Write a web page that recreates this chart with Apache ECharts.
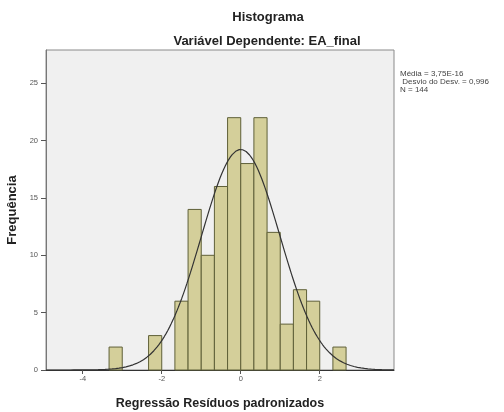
<!DOCTYPE html>
<html>
<head>
<meta charset="utf-8">
<script src="https://cdn.jsdelivr.net/npm/echarts@6/dist/echarts.min.js"></script>
<style>html,body{margin:0;padding:0;background:#fff}#c{width:504px;height:412px}</style>
</head>
<body>
<div id="c"></div>
<script>
// Histogram bins (left edge of each bin) and counts
const binWidth = 1 / 3;
const binStarts = [-10/3, -7/3, -5/3, -4/3, -1, -2/3, -1/3, 0, 1/3, 2/3, 1, 4/3, 5/3, 7/3];
const counts    = [2, 3, 6, 14, 10, 16, 22, 18, 22, 12, 4, 7, 6, 2];
// Fitted normal curve parameters (from the legend)
const mean = 3.75e-16;
const stdDev = 0.996;
const N = 144;
const xTicks = [-4, -2, 0, 2];
const yTicks = [0, 5, 10, 15, 20, 25];
const statsLines = ['Média = 3,75E-16', ' Desvio do Desv. = 0,996', 'N = 144'];

const xMin = -4.93, xMax = 3.88;

const barData = binStarts.map((s, i) => [s, s + binWidth, counts[i]]);
const curve = [];
for (let k = 0; k <= 200; k++) {
  const x = xMin + (xMax - xMin) * k / 200;
  const z = (x - mean) / stdDev;
  curve.push([x, N * binWidth * Math.exp(-0.5 * z * z) / (stdDev * Math.sqrt(2 * Math.PI))]);
}

const font = '"Liberation Sans", Arial, sans-serif';
const chart = echarts.init(document.getElementById('c'));
chart.setOption({
  animation: false,
  backgroundColor: '#ffffff',
  title: [
    { text: 'Histograma', left: 263, top: 6, textAlign: 'center',
      textStyle: { fontFamily: font, fontSize: 13, fontWeight: 'bold', color: '#222' } },
    { text: 'Variável Dependente: EA_final', left: 262, top: 30, textAlign: 'center',
      textStyle: { fontFamily: font, fontSize: 13, fontWeight: 'bold', color: '#222' } },
    { text: statsLines.join('\n'), left: 400, top: 70, padding: 0,
      textStyle: { fontFamily: font, fontSize: 8, fontWeight: 'normal', color: '#444', lineHeight: 8 } }
  ],
  grid: { left: 46, top: 50, right: 110, bottom: 42, show: true, containLabel: false,
          outerBoundsMode: 'none',
          backgroundColor: '#F0F0F0', borderColor: '#8a8a8a', borderWidth: 1 },
  xAxis: {
    type: 'value', min: xMin, max: xMax,
    name: 'Regressão Resíduos padronizados', nameLocation: 'middle', nameGap: 27,
    nameTextStyle: { fontFamily: font, fontSize: 12.5, fontWeight: 'bold', color: '#222' },
    axisLine: { show: true, onZero: false, lineStyle: { color: '#333', width: 1 } },
    axisTick: { show: true, customValues: xTicks, length: 4, lineStyle: { color: '#555' } },
    axisLabel: { customValues: xTicks, fontFamily: font, fontSize: 7.5, color: '#555', margin: 5 },
    splitLine: { show: false }
  },
  yAxis: {
    type: 'value', min: 0, max: 27.9, interval: 5,
    name: 'Frequência', nameLocation: 'middle', nameGap: 24, nameRotate: 90,
    nameTextStyle: { fontFamily: font, fontSize: 13, fontWeight: 'bold', color: '#222' },
    axisLine: { show: true, onZero: false, lineStyle: { color: '#777' } },
    axisTick: { show: true, customValues: yTicks, length: 5, lineStyle: { color: '#555' } },
    axisLabel: { customValues: yTicks, fontFamily: font, fontSize: 7.5, color: '#555', margin: 8 },
    splitLine: { show: false }
  },
  series: [
    {
      type: 'custom',
      data: barData,
      encode: { x: [0, 1], y: 2 },
      renderItem: function (params, api) {
        const p0 = api.coord([api.value(0), 0]);
        const p1 = api.coord([api.value(1), api.value(2)]);
        return {
          type: 'rect',
          shape: { x: p0[0], y: p1[1], width: p1[0] - p0[0], height: p0[1] - p1[1] },
          style: { fill: '#D4CF9A', stroke: '#5f6038', lineWidth: 1 }
        };
      },
      z: 2
    },
    {
      type: 'line', data: curve, showSymbol: false, smooth: false,
      lineStyle: { color: '#333', width: 1.2 }, z: 3
    }
  ]
});
</script>
</body>
</html>
